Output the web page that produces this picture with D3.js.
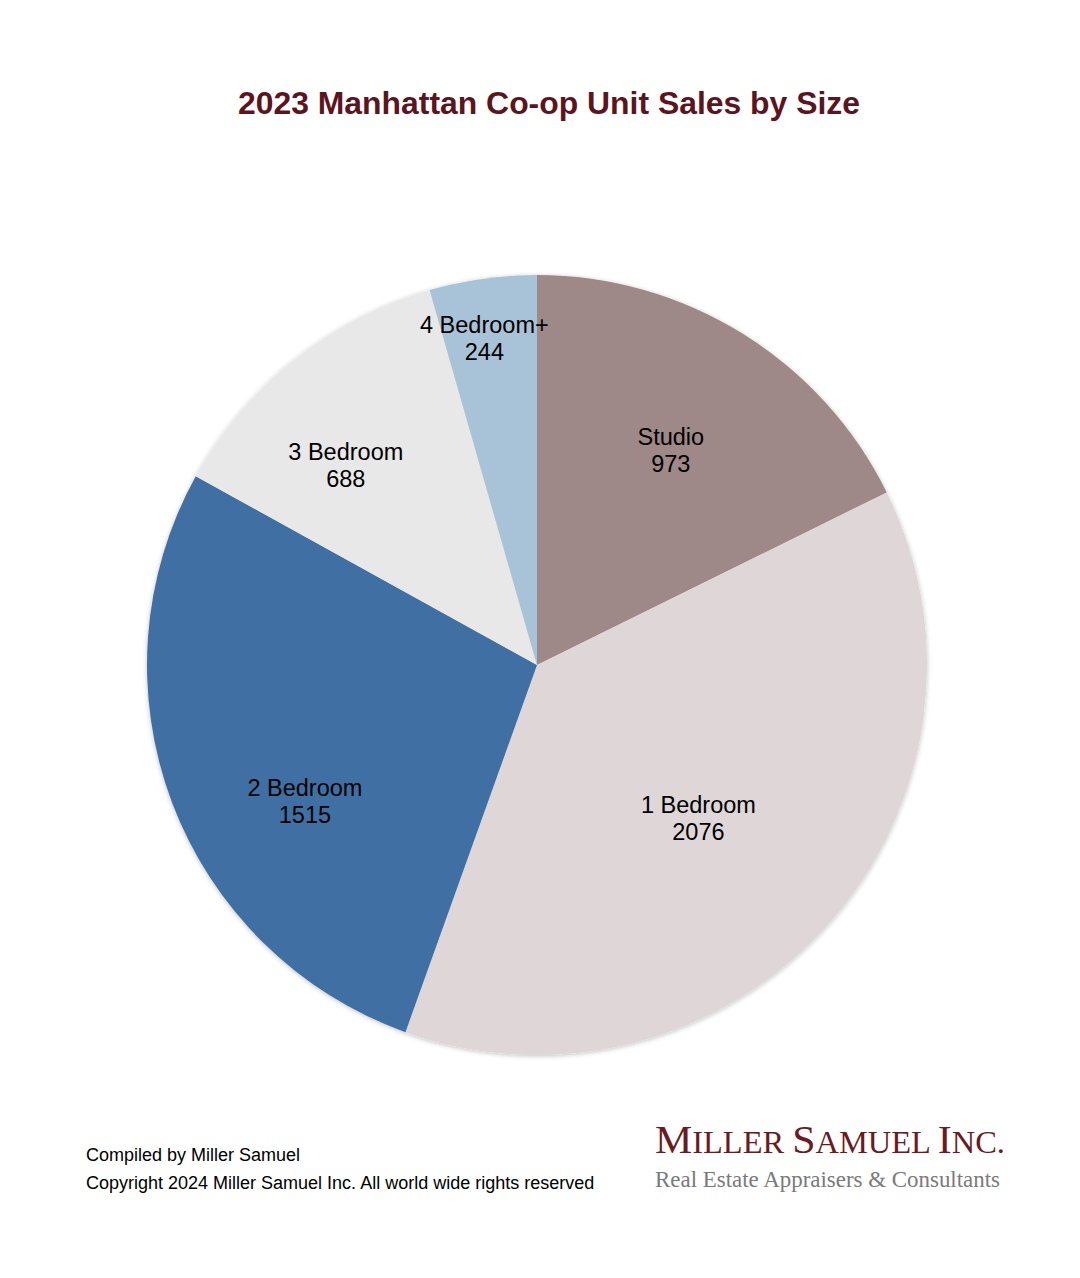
<!DOCTYPE html>
<html>
<head>
<meta charset="utf-8">
<script src="https://cdn.jsdelivr.net/npm/d3@7/dist/d3.min.js"></script>
<style>
  html, body { margin: 0; padding: 0; background: #ffffff; }
  svg { display: block; }
</style>
</head>
<body>
<svg id="chart" width="1080" height="1278"></svg>
<script>
const categories = ["Studio", "1 Bedroom", "2 Bedroom", "3 Bedroom", "4 Bedroom+"];
const values = [973, 2076, 1515, 688, 244];
const colors = ["#9e8888", "#ded6d7", "#406fa3", "#e8e8e8", "#a8c3d8"];
const title = "2023 Manhattan Co-op Unit Sales by Size";
const footerLines = ["Compiled by Miller Samuel", "Copyright 2024 Miller Samuel Inc. All world wide rights reserved"];

const svg = d3.select("#chart");
const W = 1080, H = 1278;
const cx = 537, cy = 665, R = 390;

const defs = svg.append("defs");
const f = defs.append("filter").attr("id", "shadow").attr("x", "-10%").attr("y", "-10%").attr("width", "120%").attr("height", "120%");
f.append("feGaussianBlur").attr("in", "SourceAlpha").attr("stdDeviation", 2.5).attr("result", "b");
f.append("feOffset").attr("in", "b").attr("dx", 0).attr("dy", 1).attr("result", "o");
f.append("feComponentTransfer").attr("in", "o").attr("result", "s")
  .append("feFuncA").attr("type", "linear").attr("slope", 0.25);
const m = f.append("feMerge");
m.append("feMergeNode").attr("in", "s");
m.append("feMergeNode").attr("in", "SourceGraphic");

svg.append("text")
  .attr("x", 549).attr("y", 114)
  .attr("text-anchor", "middle")
  .attr("font-family", "Liberation Sans, Arial, sans-serif")
  .attr("font-weight", "bold")
  .attr("font-size", 31)
  .attr("fill", "#5c1421")
  .attr("textLength", 622).attr("lengthAdjust", "spacingAndGlyphs")
  .text(title);

const data = categories.map((c, i) => ({ name: c, value: values[i], color: colors[i] }));
const pie = d3.pie().value(d => d.value).sort(null);
const arcs = pie(data);
const arc = d3.arc().innerRadius(0).outerRadius(R);

const g = svg.append("g").attr("transform", `translate(${cx},${cy})`);
g.append("g").attr("filter", "url(#shadow)")
  .selectAll("path").data(arcs).join("path")
  .attr("d", arc)
  .attr("fill", d => d.data.color);

// label placement (radius fraction and angle tweak, in radians) per slice, mimicking the original layout
const labelPlace = [
  { r: 0.65, da: 0 },
  { r: 0.57, da: 0.03 },
  { r: 0.69, da: -0.17 },
  { r: 0.71, da: -0.09 },
  { r: 0.85, da: -0.02 }
];
const labels = g.append("g").selectAll("text").data(arcs).join("text")
  .attr("text-anchor", "middle")
  .attr("font-family", "Liberation Sans, Arial, sans-serif")
  .attr("font-size", 23.5)
  .attr("fill", "#000")
  .attr("transform", (d, i) => {
    const a = (d.startAngle + d.endAngle) / 2 + labelPlace[i].da;
    const rr = R * labelPlace[i].r;
    return `translate(${rr * Math.sin(a)},${-rr * Math.cos(a)})`;
  });
labels.append("tspan").attr("x", 0).attr("y", -5).text(d => d.data.name);
labels.append("tspan").attr("x", 0).attr("y", 22).text(d => d.data.value);

svg.append("g").selectAll("text").data(footerLines).join("text")
  .attr("x", 86).attr("y", (d, i) => 1161 + i * 28)
  .attr("font-family", "Liberation Sans, Arial, sans-serif")
  .attr("font-size", 18)
  .attr("fill", "#000")
  .text(d => d);

// logo
const logo = svg.append("g");
const t1 = logo.append("text")
  .attr("x", 655).attr("y", 1153)
  .attr("font-family", "Liberation Serif, Times New Roman, serif")
  .attr("fill", "#6b1a22")
  .attr("textLength", 350).attr("lengthAdjust", "spacingAndGlyphs");
[["M", 40], ["ILLER ", 31], ["S", 40], ["AMUEL ", 31], ["I", 40], ["NC.", 31]].forEach(([s, fs]) => {
  t1.append("tspan").attr("font-size", fs).text(s);
});
logo.append("text")
  .attr("x", 655).attr("y", 1187)
  .attr("font-family", "Liberation Serif, Times New Roman, serif")
  .attr("font-size", 23)
  .attr("fill", "#7a7a7a")
  .attr("textLength", 345).attr("lengthAdjust", "spacingAndGlyphs")
  .text("Real Estate Appraisers & Consultants");
</script>
</body>
</html>
